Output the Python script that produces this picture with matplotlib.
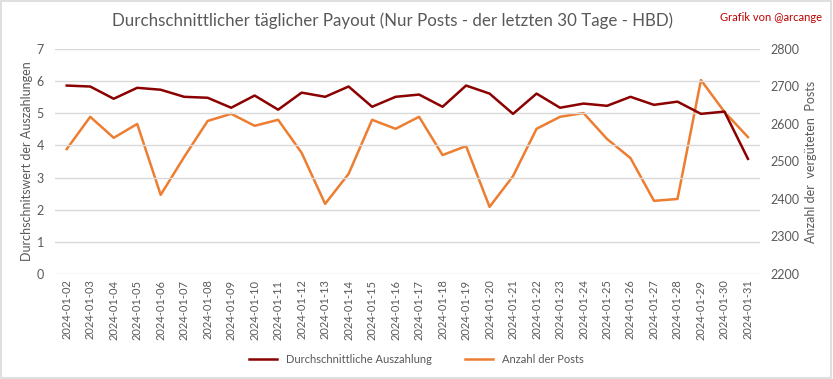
import numpy as np
import matplotlib.pyplot as plt
from matplotlib.patches import Rectangle

plt.rcParams['font.family'] = ['Lato', 'DejaVu Sans']

########### data ###########

dates = ['2024-01-%02d' % d for d in range(2, 32)]
payout = [5.86, 5.83, 5.45, 5.79, 5.73, 5.51, 5.48, 5.17, 5.55, 5.11,
          5.64, 5.51, 5.83, 5.20, 5.51, 5.58, 5.20, 5.86, 5.61, 4.98,
          5.61, 5.17, 5.30, 5.23, 5.51, 5.26, 5.36, 4.98, 5.05, 3.58]
posts = [2533, 2619, 2563, 2600, 2411, 2512, 2608, 2627, 2595, 2611,
         2523, 2387, 2467, 2611, 2587, 2619, 2517, 2541, 2379, 2461,
         2587, 2619, 2629, 2560, 2509, 2395, 2400, 2717, 2632, 2565]

dark_red = '#8B0000'
orange = '#ED7D31'
grey = '#595959'

########## figure ###########

fig = plt.figure(figsize=(8.33, 3.79), dpi=100)
fig.patches.append(Rectangle((0.001, 0.002), 0.997, 0.995, transform=fig.transFigure,
                             fill=False, edgecolor='#d9d9d9', linewidth=1.2))

ax = fig.add_axes([0.066, 0.277, 0.846, 0.594])
ax2 = ax.twinx()

x = np.arange(len(dates))
l1, = ax.plot(x, payout, color=dark_red, linewidth=1.8, label='Durchschnittliche Auszahlung', zorder=3)
l2, = ax2.plot(x, posts, color=orange, linewidth=1.8, label='Anzahl der Posts')

ax.set_ylim(0, 7)
ax.set_yticks(range(0, 8))
ax2.set_ylim(2200, 2800)
ax2.set_yticks(range(2200, 2801, 100))
ax.set_xlim(-0.5, len(dates) - 0.5)
ax.set_xticks(x)
ax.set_xticklabels(dates, rotation=90, fontsize=8, color=grey)

ax.grid(axis='y', color='#d9d9d9', linewidth=1)
ax.set_axisbelow(True)
for a in (ax, ax2):
	for s in a.spines.values():
		s.set_visible(False)
	a.tick_params(length=0, labelsize=9, labelcolor=grey)
ax.tick_params(axis='x', labelsize=8, pad=4)
ax.tick_params(axis='y', pad=8)
ax2.tick_params(axis='y', pad=8)

ax.set_ylabel('Durchschnitswert der Auszahlungen', fontsize=9, color=grey)
ax2.set_ylabel('Anzahl der  vergüteten  Posts', fontsize=9, color=grey)
ax.yaxis.set_label_coords(-0.031, 0.5)
ax2.yaxis.set_label_coords(1.064, 0.5)

ax.set_zorder(ax2.get_zorder() + 1)
ax.patch.set_visible(False)

fig.text(0.471, 0.945, 'Durchschnittlicher täglicher Payout (Nur Posts - der letzten 30 Tage - HBD)',
         ha='center', va='center', fontsize=12.2, color=grey)
fig.text(0.987, 0.955, 'Grafik von @arcange', ha='right', va='center', fontsize=8, color='#C00000')

fig.legend(handles=[l1, l2], loc='center', bbox_to_anchor=(0.5, 0.052), ncol=2,
           frameon=False, fontsize=8, labelcolor=grey, handlelength=2.5, columnspacing=3)

plt.savefig('out.png', dpi=100)
